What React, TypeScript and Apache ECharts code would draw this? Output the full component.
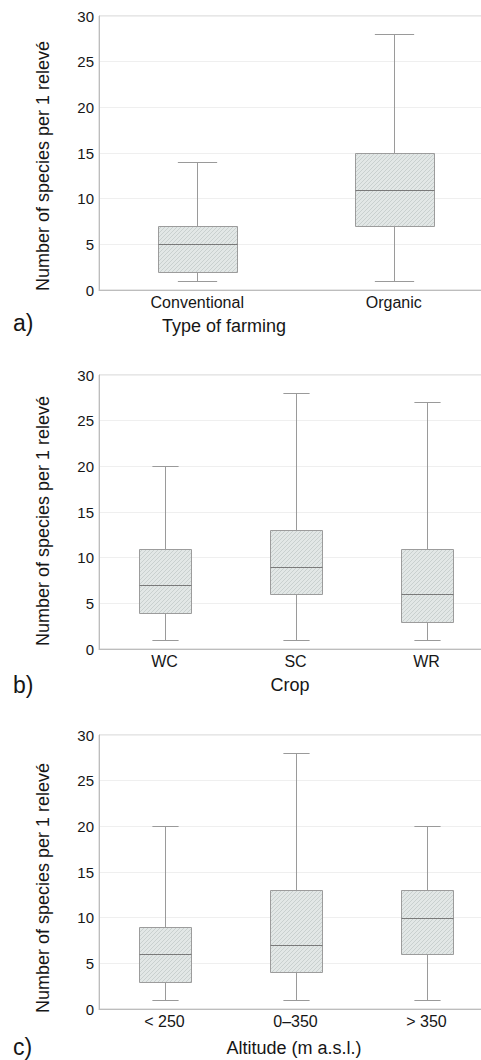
import React, { useEffect, useRef } from "react";
import * as echarts from "echarts";

// Panel a) Type of farming
const farmingCats = ["Conventional", "Organic"];
const farmingMin = [1, 1];
const farmingQ1 = [2, 7];
const farmingMed = [5, 11];
const farmingQ3 = [7, 15];
const farmingMax = [14, 28];

// Panel b) Crop
const cropCats = ["WC", "SC", "WR"];
const cropMin = [1, 1, 1];
const cropQ1 = [4, 6, 3];
const cropMed = [7, 9, 6];
const cropQ3 = [11, 13, 11];
const cropMax = [20, 28, 27];

// Panel c) Altitude
const altCats = ["< 250", "0–350", "> 350"];
const altMin = [1, 1, 1];
const altQ1 = [3, 4, 6];
const altMed = [6, 7, 10];
const altQ3 = [9, 13, 13];
const altMax = [20, 28, 20];

const yMin = 0;
const yMax = 30;
const yInterval = 5;

const yTitle = "Number of species per 1 relevé";
const panelLetters = ["a)", "b)", "c)"];
const xTitles = ["Type of farming", "Crop", "Altitude (m a.s.l.)"];

const FONT = "'Liberation Sans', Arial, Helvetica, sans-serif";
const TEXT = "#161616";

const hatchSvg =
  "<svg xmlns='http://www.w3.org/2000/svg' width='4' height='4'>" +
  "<rect width='4' height='4' fill='#e2e7e6'/>" +
  "<path d='M-1,1 L1,-1 M0,4 L4,0 M3,5 L5,3' stroke='#c3cac9' stroke-width='0.8'/></svg>";
const hatchUrl = "data:image/svg+xml;charset=utf-8," + encodeURIComponent(hatchSvg);
const hatchFill: any = { image: hatchUrl, repeat: "repeat", imageWidth: 4, imageHeight: 4 };

const buildData = (
  mins: number[],
  q1: number[],
  med: number[],
  q3: number[],
  maxs: number[]
) => mins.map((m, i) => [i, m, q1[i], med[i], q3[i], maxs[i]]);

const renderBox = (params: any, api: any) => {
  const x = api.value(0);
  const pMin = api.coord([x, api.value(1)]);
  const pQ1 = api.coord([x, api.value(2)]);
  const pMed = api.coord([x, api.value(3)]);
  const pQ3 = api.coord([x, api.value(4)]);
  const pMax = api.coord([x, api.value(5)]);
  const band = api.size([1, 0])[0];
  const bw = band * 0.4;
  const cw = band * 0.2;
  const cx = Math.round(pMed[0]) + 0.5;
  const r = (v: number) => Math.round(v) + 0.5;
  const whisker = { stroke: "#9a9a9a", lineWidth: 1, fill: null };
  return {
    type: "group",
    children: [
      { type: "line", shape: { x1: cx, y1: r(pMax[1]), x2: cx, y2: r(pQ3[1]) }, style: whisker },
      { type: "line", shape: { x1: cx, y1: r(pQ1[1]), x2: cx, y2: r(pMin[1]) }, style: whisker },
      { type: "line", shape: { x1: cx - cw / 2, y1: r(pMax[1]), x2: cx + cw / 2, y2: r(pMax[1]) }, style: whisker },
      { type: "line", shape: { x1: cx - cw / 2, y1: r(pMin[1]), x2: cx + cw / 2, y2: r(pMin[1]) }, style: whisker },
      {
        type: "rect",
        shape: { x: r(cx - bw / 2), y: r(pQ3[1]), width: Math.round(bw), height: Math.round(pQ1[1] - pQ3[1]) },
        style: { fill: hatchFill, stroke: "#9c9c9c", lineWidth: 1 },
      },
      { type: "line", shape: { x1: r(cx - bw / 2), y1: r(pMed[1]), x2: r(cx - bw / 2) + Math.round(bw), y2: r(pMed[1]) }, style: { stroke: "#7a7a7a", lineWidth: 1 } },
    ],
  };
};

const gridTops = [16, 375, 735];
const gridHeight = 274;
const gridLeft = 99;

export default function App() {
  const ref = useRef<HTMLDivElement>(null);

  useEffect(() => {
    if (!ref.current) return;
    const chart = echarts.init(ref.current, undefined, { renderer: "svg" });
    const cats = [farmingCats, cropCats, altCats];
    const datasets = [
      buildData(farmingMin, farmingQ1, farmingMed, farmingQ3, farmingMax),
      buildData(cropMin, cropQ1, cropMed, cropQ3, cropMax),
      buildData(altMin, altQ1, altMed, altQ3, altMax),
    ];

    const grids = gridTops.map((top) => ({
      left: gridLeft,
      top,
      height: gridHeight,
      right: 3,
      show: true,
      borderColor: "#cfcfcf",
      borderWidth: 1,
      backgroundColor: "transparent",
    }));

    const xAxes = cats.map((c, i) => ({
      type: "category",
      gridIndex: i,
      data: c,
      axisLine: { show: true, lineStyle: { color: "#bdbdbd", width: 1 } },
      axisTick: { show: false },
      axisLabel: { color: TEXT, fontSize: 16, fontFamily: FONT, margin: 4 },
      splitLine: { show: false },
    }));

    const yAxes = cats.map((_, i) => ({
      type: "value",
      gridIndex: i,
      min: yMin,
      max: yMax,
      interval: yInterval,
      axisLine: { show: true, lineStyle: { color: "#bdbdbd", width: 1 } },
      axisTick: { show: false },
      axisLabel: { color: TEXT, fontSize: 15, fontFamily: FONT, margin: 5 },
      splitLine: { show: true, lineStyle: { color: "#efefef", width: 1 } },
    }));

    const series = datasets.map((d, i) => ({
      type: "custom",
      xAxisIndex: i,
      yAxisIndex: i,
      data: d,
      encode: { x: 0, y: [1, 2, 3, 4, 5] },
      renderItem: renderBox,
      clip: false,
    }));

    const yTitleCenters = [166, 521, 888];
    const xTitlePos = [
      [224, 326],
      [290, 685],
      [294, 1048],
    ];
    const letterPos = [323, 685, 1047];

    const graphic: any[] = [];
    for (let i = 0; i < 3; i++) {
      graphic.push({
        type: "text",
        x: 43,
        y: yTitleCenters[i],
        rotation: Math.PI / 2,
        style: {
          text: yTitle,
          fontSize: 18,
          fontFamily: FONT,
          fill: TEXT,
          textAlign: "center",
          textVerticalAlign: "middle",
        },
      });
      graphic.push({
        type: "text",
        x: xTitlePos[i][0],
        y: xTitlePos[i][1],
        style: {
          text: xTitles[i],
          fontSize: 18,
          fontFamily: FONT,
          fill: TEXT,
          textAlign: "center",
          textVerticalAlign: "middle",
        },
      });
      graphic.push({
        type: "text",
        x: 13,
        y: letterPos[i],
        style: {
          text: panelLetters[i],
          fontSize: 23,
          fontFamily: FONT,
          fill: TEXT,
          textAlign: "left",
          textVerticalAlign: "middle",
        },
      });
    }

    chart.setOption({
      animation: false,
      backgroundColor: "#ffffff",
      grid: grids,
      xAxis: xAxes,
      yAxis: yAxes,
      series,
      graphic,
    });

    return () => chart.dispose();
  }, []);

  return (
    <div
      style={{
        position: "absolute",
        left: 0,
        top: 0,
        width: 481,
        height: 1060,
        overflow: "hidden",
        background: "#fff",
      }}
    >
      <div ref={ref} style={{ width: 495, height: 1060 }} />
    </div>
  );
}
